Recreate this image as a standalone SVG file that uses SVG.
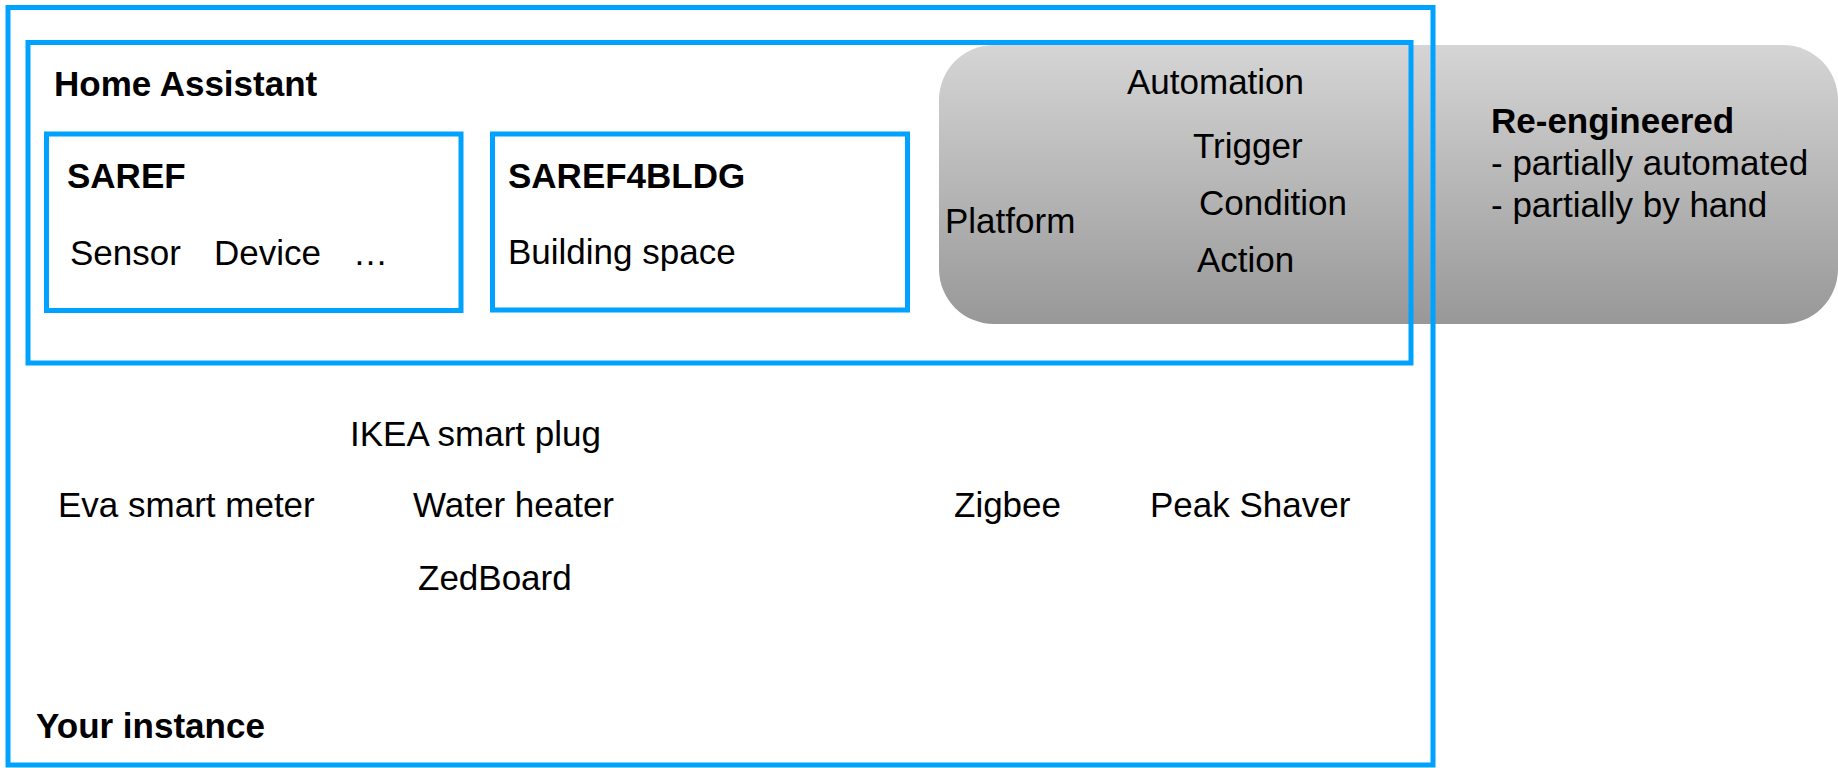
<svg xmlns="http://www.w3.org/2000/svg" width="1838" height="768" viewBox="0 0 1838 768">
  <style>
    .box { fill: none; stroke: #00a2ff; stroke-width: 5; }
    .t { font-family: "Liberation Sans", Arial, sans-serif; font-size: 35px; fill: #000; }
    .b { font-weight: bold; }
  </style>
  <defs>
    <linearGradient id="grayGrad" x1="0" y1="0" x2="0" y2="1">
      <stop offset="0" stop-color="#d5d5d5"/>
      <stop offset="1" stop-color="#989898"/>
    </linearGradient>
  </defs>
  <rect x="0" y="0" width="1838" height="768" fill="#ffffff"/>

  <g id="reengineered">
    <rect x="939" y="45" width="899" height="279" rx="55" ry="55" fill="url(#grayGrad)"/>
    <text class="t" x="1127" y="94">Automation</text>
    <text class="t" x="1193" y="158">Trigger</text>
    <text class="t" x="1199" y="215">Condition</text>
    <text class="t" x="1197" y="272">Action</text>
    <text class="t" x="945" y="233">Platform</text>
    <text class="t b" x="1491" y="133">Re-engineered</text>
    <text class="t" x="1491" y="175">- partially automated</text>
    <text class="t" x="1491" y="217">- partially by hand</text>
  </g>

  <g id="your-instance">
    <rect class="box" x="8" y="7.5" width="1425" height="757.5"/>
    <text class="t b" x="36" y="738">Your instance</text>
    <text class="t" x="350" y="446">IKEA smart plug</text>
    <text class="t" x="58" y="517">Eva smart meter</text>
    <text class="t" x="413" y="517">Water heater</text>
    <text class="t" x="418" y="590">ZedBoard</text>
    <text class="t" x="954" y="517">Zigbee</text>
    <text class="t" x="1150" y="517">Peak Shaver</text>
  </g>

  <g id="home-assistant">
    <rect class="box" x="28" y="42.5" width="1383" height="320.5"/>
    <text class="t b" x="54" y="96">Home Assistant</text>
  </g>

  <g id="saref">
    <rect class="box" x="46.5" y="134" width="414.5" height="176.5"/>
    <text class="t b" x="67" y="188">SAREF</text>
    <text class="t" x="70" y="265">Sensor</text>
    <text class="t" x="214" y="265">Device</text>
    <text class="t" x="353" y="265">…</text>
  </g>

  <g id="saref4bldg">
    <rect class="box" x="492.5" y="134" width="415" height="176"/>
    <text class="t b" x="508" y="188">SAREF4BLDG</text>
    <text class="t" x="508" y="264">Building space</text>
  </g>

  <g id="connectors"/>
</svg>
